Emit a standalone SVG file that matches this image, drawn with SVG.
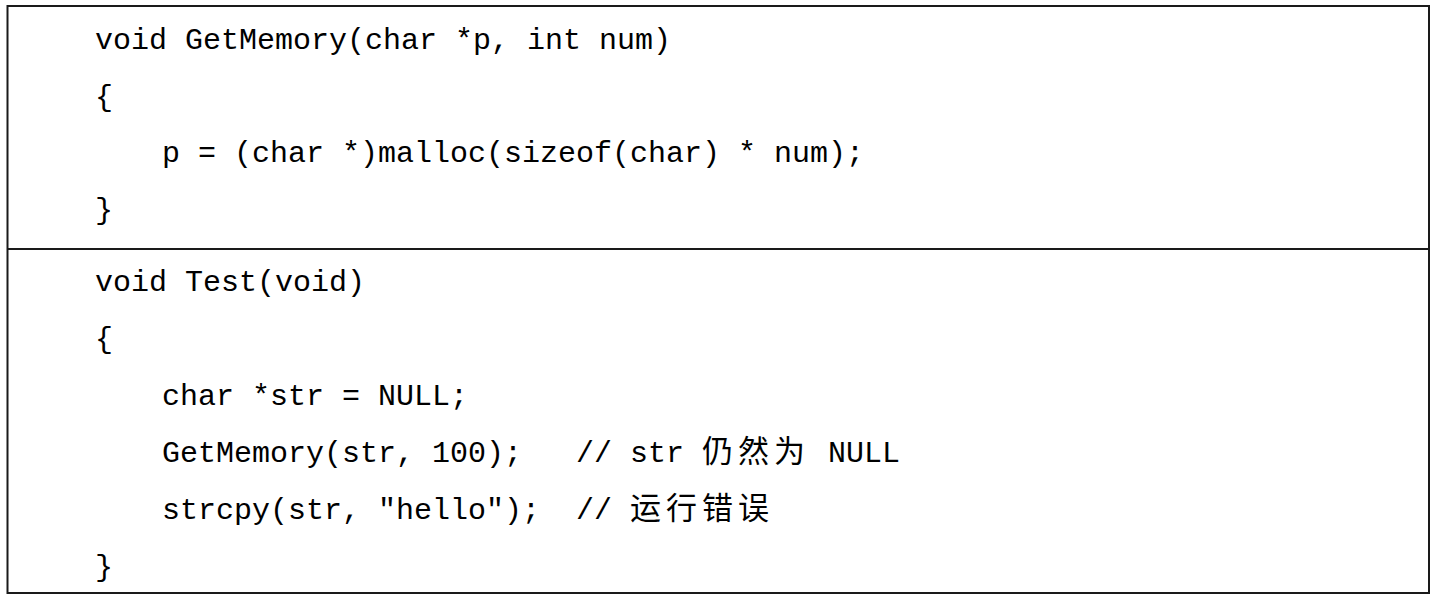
<svg xmlns="http://www.w3.org/2000/svg" width="1438" height="602" viewBox="0 0 1438 602">
<style>
.code{font-family:"Liberation Mono","Noto Sans CJK SC",monospace;font-size:30px;fill:#000;white-space:pre}
.cjk{font-family:"Noto Sans CJK SC",sans-serif;font-size:31px;letter-spacing:5px}
.box{fill:none;stroke:#1a1a1a;stroke-width:2}
</style>
<rect width="1438" height="602" fill="#fff"/>
<g id="frame">
<rect class="box" x="7.5" y="6" width="1421.5" height="587"/>
<line class="box" x1="7.5" y1="249" x2="1429" y2="249"/>
</g>
<g id="getmemory">
<text class="code" xml:space="preserve" x="95" y="49">void GetMemory(char *p, int num)</text>
<text class="code" xml:space="preserve" x="95" y="106">{</text>
<text class="code" xml:space="preserve" x="162" y="162">p = (char *)malloc(sizeof(char) * num);</text>
<text class="code" xml:space="preserve" x="95" y="219">}</text>
</g>
<g id="test">
<text class="code" xml:space="preserve" x="95" y="291">void Test(void)</text>
<text class="code" xml:space="preserve" x="95" y="348">{</text>
<text class="code" xml:space="preserve" x="162" y="405">char *str = NULL;</text>
<text class="code" xml:space="preserve" x="162" y="462">GetMemory(str, 100);   // str <tspan class="cjk" x="702">仍然为</tspan><tspan x="828">NULL</tspan></text>
<text class="code" xml:space="preserve" x="162" y="519">strcpy(str, "hello");  // <tspan class="cjk" x="630">运行错误</tspan></text>
<text class="code" xml:space="preserve" x="95" y="576">}</text>
</g>
</svg>
